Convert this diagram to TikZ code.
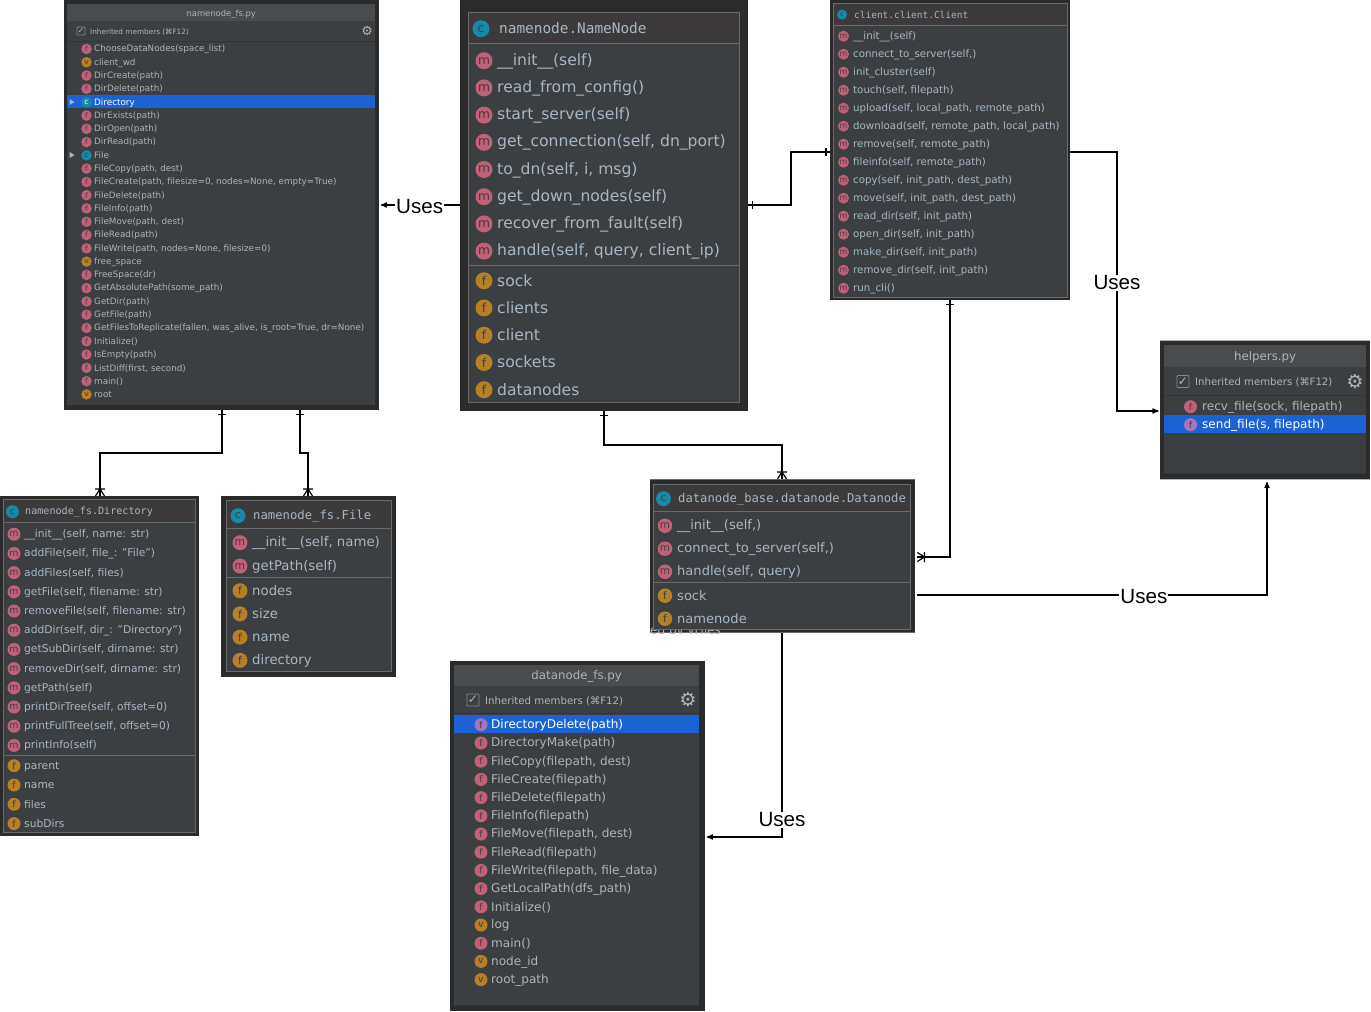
\documentclass[tikz,border=0pt]{standalone}
\usepackage{fontspec}
\setmainfont{DejaVu Sans}
\setmonofont{DejaVu Sans Mono}
\newfontfamily\usesfont{Liberation Sans}
\usepackage{color}
\definecolor{uidark}{RGB}{43, 43, 43}
\definecolor{uibody}{RGB}{60, 63, 65}
\definecolor{uititle}{RGB}{60, 58, 58}
\definecolor{uihead}{RGB}{72, 76, 79}
\definecolor{uiline}{RGB}{104, 106, 107}
\definecolor{uicheck}{RGB}{132, 134, 135}
\definecolor{uisoft}{RGB}{50, 52, 54}
\definecolor{uiblue}{RGB}{27, 99, 212}
\definecolor{classtext}{RGB}{168, 182, 196}
\definecolor{filetext}{RGB}{178, 178, 178}
\definecolor{icopink}{RGB}{193, 97, 120}
\definecolor{icoorange}{RGB}{181, 128, 40}
\definecolor{icoteal}{RGB}{22, 138, 166}
\definecolor{icopurple}{RGB}{170, 115, 190}
\usepackage{tikz}
\usetikzlibrary{arrows}

\pgfarrowsdeclare{onetick}{onetick}
{\pgfarrowsleftextend{-5pt}\pgfarrowsrightextend{0pt}}
{\pgfsetdash{}{0pt}
 \pgfpathmoveto{\pgfpoint{-4pt}{-4pt}}\pgfpathlineto{\pgfpoint{-4pt}{4pt}}\pgfusepathqstroke}
\pgfarrowsdeclare{crowfoot}{crowfoot}
{\pgfarrowsleftextend{-8pt}\pgfarrowsrightextend{0pt}}
{\pgfsetdash{}{0pt}
 \pgfpathmoveto{\pgfpoint{-7pt}{-5pt}}\pgfpathlineto{\pgfpoint{-7pt}{5pt}}
 \pgfpathmoveto{\pgfpoint{0pt}{-4.5pt}}\pgfpathlineto{\pgfpoint{-7pt}{0pt}}\pgfpathlineto{\pgfpoint{0pt}{4.5pt}}\pgfusepathqstroke}

\newcommand{\fsz}[1]{\fontsize{#1}{#1}\selectfont}

\tikzset{
  outerbox/.style={rectangle,fill=uidark,anchor=north west,inner sep=0pt},
  bodybox/.style={rectangle,fill=uibody,anchor=north west,inner sep=0pt},
  size/.style 2 args={minimum width=#1 pt,minimum height=#2 pt},
  ico/.style={circle,inner sep=0pt,minimum size=#1 pt,text=uibody,yshift=-.7pt,
    font={\pgfmathparse{#1*.72}\fsz{\pgfmathresult}}},
  ico m/.style={fill=icopink},
  ico f/.style={fill=icopink},
  ico v/.style={fill=icoorange},
  ico c/.style={fill=icoteal},
  memtext/.style={anchor=west,inner sep=0pt,yshift=-1.2pt,text=classtext,font=\fsz{#1}},
  sepline/.style={draw=uiline,line width=1pt},
  softline/.style={draw=uisoft,line width=1pt},
  link/.style={draw=black,line width=1.2pt},
  uses/.style={link,->,>={stealth'[scale=1.2]},shorten >=1.5pt},
  useslabel/.style={fill=white,inner sep=1pt,yshift=-1.2pt,font=\usesfont\fsz{20.6}}
}

% icon and text for each entry of a list
\newcommand{\members}[9][]{
  \foreach \k/\txt [count=\i from 0] in {#9} {
    \node[ico=#7,ico \k,#1] (#2\i) at (#3,{#5+#6*\i}) {\k};
    \node[memtext=#8] (#2\i t) at (#4,{#5+#6*\i}) {\vphantom{(}\txt};
  }
}

\newcommand{\inheritrow}[7]{
  \node[rectangle,draw=uicheck,line width=.8pt,rounded corners=1pt,inner sep=0pt,minimum size=#4 pt,text=filetext,font=\fsz{#4}] (#1check) at (#2,#3) {✓};
  \node[memtext=#6,text=filetext] (#1inherit) at (#5,#3) {\vphantom{(}Inherited members (⌘F12)};
  \node[text=filetext,inner sep=0pt,font={\bfseries\pgfmathparse{#4*1.6}\fsz{\pgfmathresult}}] (#1gear) at (#7,#3) {⚙};
}

\begin{document}
\begin{tikzpicture}[x=1pt,y=-1pt]
  \useasboundingbox (0,0) rectangle (1371,1012);

  % namenode_fs.py
  \node[outerbox,size={315}{410}] (fs) at (64,0) {};
  \node[bodybox,size={308}{401}] (fsbody) at (67,4) {};
  \node[bodybox,fill=uihead,size={308}{17}] (fstitle) at (67,4) {};
  \node[memtext=8.4,anchor=center,text=filetext] (fsname) at (fstitle.center) {\vphantom{(}namenode\_fs.py};
  \draw[softline] (67,41) -- (375,41);
  \begin{scope}[memtext/.append style={text=filetext}]
    \inheritrow{fs}{81}{31}{8}{90}{7.3}{367}
    \members{fsa}{86.5}{94}{48.2}{13.3}{10.5}{8.8}{f/{ChooseDataNodes(space\_list)},v/client\_wd,f/DirCreate(path),f/DirDelete(path)}
    \node[bodybox,fill=uiblue,size={308}{13.3},anchor=west] (fssel) at (67,101.7) {};
    \node[ico=10.5,ico c,text=white] (fsdir) at (86.5,101.7) {c};
    \node[memtext=8.8,text=white] (fsdirt) at (94,101.7) {\vphantom{(}Directory};
    \members{fsb}{86.5}{94}{114.8}{13.28}{10.5}{8.8}{f/DirExists(path),f/DirOpen(path),f/DirRead(path),c/File,f/{FileCopy(path, dest)},f/{FileCreate(path, filesize=0, nodes=None, empty=True)},f/FileDelete(path),f/FileInfo(path),f/{FileMove(path, dest)},f/FileRead(path),f/{FileWrite(path, nodes=None, filesize=0)},v/free\_space,f/FreeSpace(dr),f/{GetAbsolutePath(some\_path)},f/GetDir(path),f/GetFile(path),f/{GetFilesToReplicate(fallen, was\_alive, is\_root=True, dr=None)},f/Initialize(),f/IsEmpty(path),f/{ListDiff(first, second)},f/main(),v/root}
  \end{scope}
  \fill[filetext] (69.5,99) -- (69.5,105) -- (74.5,102) -- cycle;
  \fill[filetext] (69.5,152) -- (69.5,158) -- (74.5,155) -- cycle;

  % namenode.NameNode
  \node[outerbox,size={288}{411}] (nn) at (460,0) {};
  \node[bodybox,draw=uiline,size={271}{390}] (nnbody) at (468,12) {};
  \node[bodybox,draw=uiline,fill=uititle,size={271}{31}] (nntitle) at (468,12) {};
  \node[ico=17,ico c] (nnico) at (481,28) {c};
  \node[memtext=14.4,font=\ttfamily\fsz{14.4}] (nnname) at (499,28) {\vphantom{(}namenode.NameNode};
  \members{nnm}{484}{497}{60}{27.2}{17}{15.6}{m/\_\_init\_\_(self),m/read\_from\_config(),m/start\_server(self),m/{get\_connection(self, dn\_port)},m/{to\_dn(self, i, msg)},m/get\_down\_nodes(self),m/recover\_from\_fault(self),m/{handle(self, query, client\_ip)}}
  \draw[sepline] (468,265) -- (739,265);
  \members[fill=icoorange]{nnf}{484}{497}{280}{27.25}{17}{15.6}{f/sock,f/clients,f/client,f/sockets,f/datanodes}

  % client.client.Client
  \node[outerbox,size={240}{300}] (cl) at (830,0) {};
  \node[bodybox,draw=uiline,size={234}{294}] (clbody) at (833,3) {};
  \node[bodybox,draw=uiline,fill=uititle,size={234}{22}] (cltitle) at (833,3) {};
  \node[ico=10,ico c] (clico) at (842,14) {c};
  \node[memtext=9.5,font=\ttfamily\fsz{9.47}] (clname) at (854,14) {\vphantom{(}client.client.Client};
  \members{clm}{843.5}{853}{35.5}{18}{11}{10.25}{m/\_\_init\_\_(self),m/{connect\_to\_server(self,)},m/init\_cluster(self),m/{touch(self, filepath)},m/{upload(self, local\_path, remote\_path)},m/{download(self, remote\_path, local\_path)},m/{remove(self, remote\_path)},m/{fileinfo(self, remote\_path)},m/{copy(self, init\_path, dest\_path)},m/{move(self, init\_path, dest\_path)},m/{read\_dir(self, init\_path)},m/{open\_dir(self, init\_path)},m/{make\_dir(self, init\_path)},m/{remove\_dir(self, init\_path)},m/run\_cli()}

  % helpers.py
  \node[outerbox,size={210}{140}] (hp) at (1160,340) {};
  \draw[filetext,line width=.7pt] (1160,340.3) -- (1370,340.3) (1160,479.7) -- (1370,479.7);
  \node[bodybox,size={202}{129}] (hpbody) at (1164,345) {};
  \node[bodybox,fill=uihead,size={202}{22}] (hptitle) at (1164,345) {};
  \node[memtext=11.8,anchor=center,text=filetext] (hpname) at (hptitle.center) {\vphantom{(}helpers.py};
  \draw[softline] (1164,395) -- (1366,395) (1164,473.5) -- (1366,473.5);
  \begin{scope}[memtext/.append style={text=filetext}]
    \inheritrow{hp}{1183}{381.5}{12}{1195}{10.15}{1355}
    \members{hpa}{1190.5}{1202}{406}{18}{13}{12.05}{f/{recv\_file(sock, filepath)}}
    \node[bodybox,fill=uiblue,size={202}{18},anchor=west] (hpsel) at (1164,424) {};
    \node[ico=13,ico f,fill=icopurple] (hpsend) at (1190.5,424) {f};
    \node[memtext=12.05,text=white] (hpsendt) at (1202,424) {\vphantom{(}send\_file(s, filepath)};
  \end{scope}

  % namenode_fs.Directory
  \node[outerbox,size={199}{340}] (dir) at (0,496) {};
  \node[bodybox,draw=uiline,size={192}{333}] (dirbody) at (3,499) {};
  \node[bodybox,draw=uiline,fill=uititle,size={192}{23}] (dirtitle) at (3,499) {};
  \node[ico=13,ico c] (dirico) at (12.5,511) {c};
  \node[memtext=10,font=\ttfamily\fsz{10.1}] (dirname) at (25,511) {\vphantom{(}namenode\_fs.Directory};
  \members{dirm}{14}{24}{533.5}{19.2}{13}{10.7}{m/{\_\_init\_\_(self, name: str)},m/{addFile(self, file\_: "File")},m/{addFiles(self, files)},m/{getFile(self, filename: str)},m/{removeFile(self, filename: str)},m/{addDir(self, dir\_: "Directory")},m/{getSubDir(self, dirname: str)},m/{removeDir(self, dirname: str)},m/getPath(self),m/{printDirTree(self, offset=0)},m/{printFullTree(self, offset=0)},m/printInfo(self)}
  \draw[sepline] (3,755) -- (195,755);
  \members[fill=icoorange]{dirf}{14}{24}{765}{19.3}{13}{10.7}{f/parent,f/name,f/files,f/subDirs}

  % namenode_fs.File
  \node[outerbox,size={175}{181}] (fl) at (221,496) {};
  \node[bodybox,draw=uiline,size={165}{171}] (flbody) at (226,500) {};
  \node[bodybox,draw=uiline,fill=uititle,size={165}{28}] (fltitle) at (226,500) {};
  \node[ico=15,ico c] (flico) at (238,515) {c};
  \node[memtext=12,font=\ttfamily\fsz{12.25}] (flname) at (253,515) {\vphantom{(}namenode\_fs.File};
  \members{flm}{240}{252}{542}{23.3}{15}{13.3}{m/{\_\_init\_\_(self, name)},m/getPath(self)}
  \draw[sepline] (226,577) -- (391,577);
  \members[fill=icoorange]{flf}{240}{252}{590}{23.2}{15}{13.3}{f/nodes,f/size,f/name,f/directory}

  % datanode_base.datanode.Datanode
  \node[outerbox,size={265}{154}] (dn) at (650,479) {};
  \draw[uiline,line width=.8pt] (650,479.3) -- (915,479.3) (650,632.7) -- (915,632.7);
  \begin{scope}
    \clip (650,625) rectangle (915,633);
    \node[memtext=12,text=filetext] (dnghost) at (650,630) {\vphantom{(}ed by yFiles};
  \end{scope}
  \node[bodybox,draw=uiline,size={257}{145}] (dnbody) at (653,484) {};
  \node[bodybox,draw=uiline,fill=uititle,size={257}{27}] (dntitle) at (653,484) {};
  \node[ico=15,ico c] (dnico) at (663.5,498) {c};
  \node[memtext=12,font=\ttfamily\fsz{12.2}] (dnname) at (678,498) {\vphantom{(}datanode\_base.datanode.Datanode};
  \members{dnm}{665}{677}{525}{23}{14.5}{13.05}{m/{\_\_init\_\_(self,)},m/{connect\_to\_server(self,)},m/{handle(self, query)}}
  \draw[sepline] (653,582) -- (910,582);
  \members[fill=icoorange]{dnf}{665}{677}{595}{23}{14.5}{13.05}{f/sock,f/namenode}

  % datanode_fs.py
  \node[outerbox,size={255}{350}] (dfs) at (450,661) {};
  \node[bodybox,size={245}{341}] (dfsbody) at (454,665) {};
  \node[bodybox,fill=uihead,size={245}{21}] (dfstitle) at (454,665) {};
  \node[memtext=11.8,anchor=center,text=filetext] (dfsname) at (dfstitle.center) {\vphantom{(}datanode\_fs.py};
  \draw[softline] (454,713) -- (699,713) (454,1005.5) -- (699,1005.5);
  \begin{scope}[memtext/.append style={text=filetext}]
    \inheritrow{dfs}{473}{700}{12}{485}{10.2}{688}
    \node[bodybox,fill=uiblue,size={245}{18},anchor=west] (dfssel) at (454,724) {};
    \node[ico=13,ico f,fill=icopurple] (dfsdel) at (481,724) {f};
    \node[memtext=12.05,text=white] (dfsdelt) at (491,724) {\vphantom{(}DirectoryDelete(path)};
    \members{dfsm}{481}{491}{742.3}{18.2}{13}{12.05}{f/DirectoryMake(path),f/{FileCopy(filepath, dest)},f/FileCreate(filepath),f/FileDelete(filepath),f/FileInfo(filepath),f/{FileMove(filepath, dest)},f/FileRead(filepath),f/{FileWrite(filepath, file\_data)},f/{GetLocalPath(dfs\_path)},f/Initialize(),v/log,f/main(),v/node\_id,v/root\_path}
  \end{scope}

  % connectors
  \draw[uses] (nn.west |- 0,205) -- node[useslabel] (usesfs) {Uses} (fs.east |- 0,205);
  \draw[link,onetick-onetick] (nn.east |- 0,205) -- (791,205) -- (791,152) -- (cl.west |- 0,152);
  \draw[uses] (cl.east |- 0,152) -- (1117,152) -- node[useslabel] (useshp) {Uses} (1117,411) -- (hp.west |- 0,411);
  \draw[link,onetick-crowfoot] (fs.south -| 222,0) -- (222,453) -- (100,453) -- (dir.north -| 100,0);
  \draw[link,onetick-crowfoot] (fs.south -| 300,0) -- (300,453) -- (308,453) -- (fl.north -| 308,0);
  \draw[link,onetick-crowfoot] (nn.south -| 604,0) -- (604,445) -- (782,445) -- (dn.north -| 782,0);
  \draw[link,onetick-crowfoot,shorten >=2pt] (cl.south -| 950,0) -- (950,557) -- (dn.east |- 0,557);
  \draw[uses,shorten <=2pt] (dn.east |- 0,595) -- node[useslabel,pos=.65] (usesdn) {Uses} (1267,595) -- (hp.south -| 1267,0);
  \draw[uses] (dn.south -| 782,0) -- node[useslabel,pos=.91] (usesdfs) {Uses} (782,837) -- (dfs.east |- 0,837);
\end{tikzpicture}
\end{document}
